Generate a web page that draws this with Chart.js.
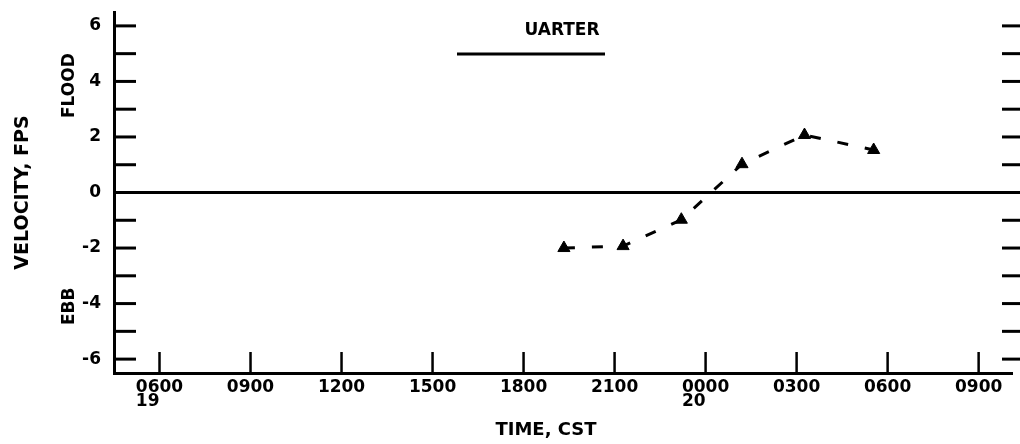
<!DOCTYPE html>
<html>
<head>
<meta charset="utf-8">
<script src="https://cdn.jsdelivr.net/npm/chart.js@4"></script>
<style>
  html, body { margin: 0; padding: 0; background: #fff; }
  #wrap { width: 1020px; height: 444px; }
</style>
</head>
<body>
<div id="wrap"><canvas id="velChart" width="1020" height="444"></canvas></div>
<script>
// time in hours from 0000 on day 19
const tickHours = [6, 9, 12, 15, 18, 21, 24, 27, 30, 33];
const tickLabels = ['0600', '0900', '1200', '1500', '1800', '2100', '0000', '0300', '0600', '0900'];
const dayLabels = { 6: '19', 24: '20' };
const yTicks = [-6, -5, -4, -3, -2, -1, 0, 1, 2, 3, 4, 5, 6];

// Warter station readings
const obsHours = [19.33, 21.28, 23.2, 25.2, 27.26, 29.54];
const obsVelocity = [-2.0, -1.93, -0.98, 1.02, 2.07, 1.53];

const FONT = 'DejaVu Sans';

// inward ticks, FLOOD / EBB labels, x title and the legend line
const plotterBits = {
    id: 'plotterBits',
    afterDraw(chart) {
        const ctx = chart.ctx;
        const xs = chart.scales.x;
        const ys = chart.scales.y;
        const area = chart.chartArea;
        ctx.save();
        ctx.strokeStyle = '#000';
        ctx.lineWidth = 3;
        ctx.lineCap = 'butt';

        // y ticks on both sides
        yTicks.forEach(v => {
            const py = ys.getPixelForValue(v);
            if (v !== 0) {
                ctx.beginPath();
                ctx.moveTo(area.left, py);
                ctx.lineTo(area.left + 22, py);
                ctx.stroke();
            }
            ctx.beginPath();
            ctx.moveTo(1002, py);
            ctx.lineTo(1020, py);
            ctx.stroke();
        });

        // x ticks pointing up
        tickHours.forEach(h => {
            const px = xs.getPixelForValue(h);
            ctx.lineWidth = 2.5;
            ctx.beginPath();
            ctx.moveTo(px, area.bottom);
            ctx.lineTo(px, area.bottom - 21);
            ctx.stroke();
        });

        ctx.fillStyle = '#000';
        ctx.font = 'bold 17px ' + FONT;
        ctx.textAlign = 'center';
        ctx.textBaseline = 'middle';

        // FLOOD / EBB
        [['FLOOD', 3.85], ['EBB', -4.1]].forEach(([txt, v]) => {
            ctx.save();
            ctx.translate(70, ys.getPixelForValue(v));
            ctx.rotate(-Math.PI / 2);
            ctx.fillText(txt, 0, 0);
            ctx.restore();
        });

        // legend
        ctx.fillText('UARTER', 562, 31);
        ctx.lineWidth = 3;
        ctx.beginPath();
        ctx.moveTo(457, 54);
        ctx.lineTo(605, 54);
        ctx.stroke();

        // x axis title
        ctx.font = 'bold 18px ' + FONT;
        ctx.fillText('TIME, CST', 546, 430);

        ctx.restore();
    }
};

new Chart(document.getElementById('velChart'), {
    type: 'line',
    data: {
        datasets: [{
            label: 'UARTER',
            data: obsHours.map((h, i) => ({ x: h, y: obsVelocity[i] })),
            borderColor: '#000',
            backgroundColor: '#000',
            borderWidth: 3,
            borderDash: [11, 17],
            pointStyle: 'triangle',
            pointRadius: 7,
            pointBorderWidth: 1,
            tension: 0
        }]
    },
    options: {
        responsive: false,
        animation: false,
        layout: {
            padding: { top: 12, right: -4, left: 0, bottom: 0 }
        },
        plugins: {
            legend: { display: false },
            tooltip: { enabled: false }
        },
        scales: {
            x: {
                type: 'linear',
                min: 4.5,
                max: 34.1,
                afterBuildTicks: scale => {
                    scale.ticks = tickHours.map(v => ({ value: v }));
                },
                afterFit: scale => {
                    scale.height = 71;
                    scale.paddingLeft = 0;
                    scale.paddingRight = 0;
                },
                grid: { display: false, drawTicks: false },
                border: { display: true, color: '#000', width: 3 },
                ticks: {
                    color: '#000',
                    padding: 7,
                    maxRotation: 0,
                    autoSkip: false,
                    font: { family: FONT, size: 17, weight: 'bold', lineHeight: 0.85 },
                    callback: v => {
                        const i = tickHours.indexOf(v);
                        if (i < 0) return '';
                        return dayLabels[v] ? [tickLabels[i], dayLabels[v] + '    '] : tickLabels[i];
                    }
                }
            },
            y: {
                min: -6.5,
                max: 6.5,
                afterBuildTicks: scale => {
                    scale.ticks = yTicks.map(v => ({ value: v }));
                },
                afterFit: scale => {
                    scale.width = 114;
                    scale.paddingTop = 0;
                    scale.paddingBottom = 0;
                },
                grid: {
                    drawTicks: false,
                    color: c => (c.tick && c.tick.value === 0) ? '#000' : 'rgba(0,0,0,0)',
                    lineWidth: c => (c.tick && c.tick.value === 0) ? 3 : 0
                },
                border: { display: true, color: '#000', width: 3 },
                ticks: {
                    color: '#000',
                    padding: 13,
                    font: { family: FONT, size: 17, weight: 'bold' },
                    callback: v => (v % 2 === 0 ? String(v) : '')
                },
                title: {
                    display: true,
                    text: 'VELOCITY, FPS',
                    color: '#000',
                    font: { family: FONT, size: 19, weight: 'bold' },
                    padding: { top: 12, bottom: 0 }
                }
            }
        }
    },
    plugins: [plotterBits]
});
</script>
</body>
</html>
